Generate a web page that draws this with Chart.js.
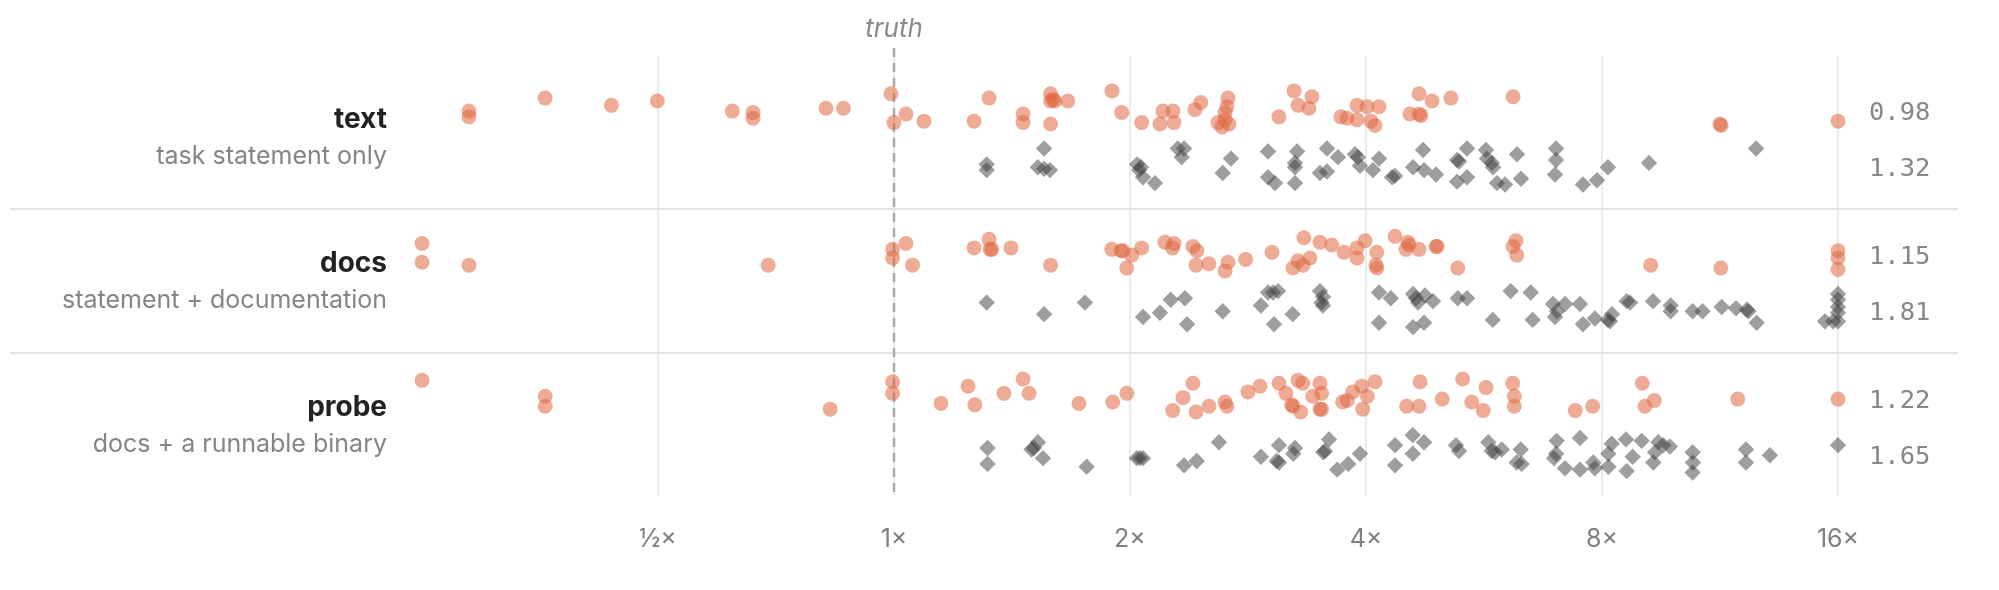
<!DOCTYPE html>
<html><head><meta charset="utf-8">
<script src="https://cdn.jsdelivr.net/npm/chart.js@4.4.1/dist/chart.umd.min.js"></script>
<style>html,body{margin:0;padding:0;background:#fff;}#wrap{width:1999px;height:590px;position:relative;}</style>
</head><body><div id="wrap"><canvas id="c"></canvas></div>
<script>
const rowTitles = ['text', 'docs', 'probe'];
const rowSubtitles = ['task statement only', 'statement + documentation', 'docs + a runnable binary'];
const summaryA = ['0.98', '1.15', '1.22'];
const summaryB = ['1.32', '1.81', '1.65'];
const xTickValues = [0.5, 1, 2, 4, 8, 16];
const xTickLabels = ['½×', '1×', '2×', '4×', '8×', '16×'];
const truthValue = 1;

// [ratio, jitter] pairs (jitter in hundredths of a row)
const textA = [[0.287,1],[0.287,5],[0.359,-8],[0.436,-3],[0.499,-6],[0.622,1],[0.661,2],[0.661,6],[0.819,-1],[0.862,-1],[0.991,-11],[1.0,9],[1.036,3],[1.092,8],[1.265,8],[1.322,-8],[1.461,3],[1.461,9],[1.584,-11],[1.584,-6],[1.595,-7],[1.604,-6],[1.666,-6],[1.584,10],[1.897,-13],[1.952,2],[2.070,9],[2.184,10],[2.203,1],[2.269,1],[2.276,9],[2.420,0],[2.462,-5],[2.667,-8],[2.659,-2],[2.644,2],[2.590,9],[2.644,7],[2.675,10],[2.621,12],[3.098,5],[3.238,-13],[3.276,-3],[3.413,-9],[3.383,-1],[3.717,5],[3.782,6],[3.896,-3],[3.896,7],[4.012,-2],[4.156,-2],[4.059,8],[4.107,11],[4.675,-11],[4.856,-6],[4.551,3],[4.675,3],[4.702,4],[5.134,-8],[6.160,-9],[11.31,10],[11.35,11],[16,8]];
const textB = [[1.313,-1],[1.313,3],[1.554,-12],[1.526,1],[1.554,2],[1.581,3],[2.042,-1],[2.066,1],[2.054,3],[2.078,8],[2.152,12],[2.301,-12],[2.344,-12],[2.328,-6],[2.691,-5],[2.626,5],[3.000,-10],[3.000,8],[3.062,12],[3.267,-10],[3.247,-2],[3.247,1],[3.247,12],[3.567,-12],[3.684,-6],[3.494,5],[3.567,4],[3.872,-8],[3.907,-6],[3.930,0],[4.156,-5],[4.083,3],[4.318,8],[4.356,7],[4.730,-11],[4.593,1],[4.744,3],[4.913,6],[5.227,-4],[5.257,-3],[5.382,-12],[5.227,11],[5.382,8],[5.690,-11],[5.707,-5],[5.792,-2],[5.809,1],[5.877,12],[6.017,13],[6.233,-8],[6.307,9],[6.990,-12],[6.990,-4],[6.969,6],[7.565,13],[7.883,10],[8.141,1],[9.184,-2],[12.58,-12]];
const docsA = [[0.25,-7],[0.25,6],[0.287,8],[0.691,8],[0.996,-3],[0.996,3],[1.036,-7],[1.056,8],[1.265,-4],[1.322,-10],[1.326,-3],[1.333,-3],[1.410,-4],[1.584,8],[1.896,-3],[1.948,-2],[1.959,-2],[2.010,1],[1.981,10],[2.070,-4],[2.216,-8],[2.276,-7],[2.267,-4],[2.406,-5],[2.435,-2],[2.428,8],[2.522,7],[2.667,6],[2.644,12],[2.809,4],[3.035,-1],[3.333,-11],[3.494,-8],[3.617,-6],[3.750,-1],[3.228,10],[3.276,5],[3.325,8],[3.393,3],[3.896,-4],[3.989,-9],[3.896,3],[4.128,-1],[4.118,8],[4.13,10],[4.356,-12],[4.525,-8],[4.538,-6],[4.498,-3],[4.675,-3],[4.913,-5],[4.93,-5],[5.237,10],[6.214,-9],[6.160,-5],[6.228,1],[9.230,8],[11.34,10],[16,-2],[16,3],[16,11]];
const docsB = [[1.313,-5],[1.554,3],[1.752,-5],[2.078,5],[2.184,2],[2.254,-7],[2.350,-8],[2.365,10],[2.626,1],[2.938,-3],[3.000,-12],[3.044,-12],[3.089,-13],[3.053,10],[3.225,3],[3.494,-13],[3.525,-9],[3.51,-5],[3.525,-3],[4.156,-12],[4.302,-8],[4.156,9],[4.593,-11],[4.633,-8],[4.660,-5],[4.756,-10],[4.870,-6],[4.593,12],[4.744,9],[5.237,-8],[5.382,-8],[5.804,7],[6.118,-13],[6.489,-12],[6.526,7],[6.927,-4],[7.009,1],[6.969,5],[7.176,-4],[7.500,-4],[7.565,10],[7.835,6],[8.141,7],[8.237,3],[8.190,8],[8.602,-6],[8.687,-5],[9.293,-6],[9.787,-3],[9.787,1],[10.44,1],[10.75,1],[11.37,-2],[11.86,-1],[12.24,0],[12.3,1],[12.60,9],[15.40,8],[16,-11],[16,-7],[16,-2],[16,2],[16,8],[15.77,8]];
const probeA = [[0.25,-12],[0.359,-1],[0.359,6],[0.829,8],[0.996,-11],[0.996,-3],[1.148,4],[1.243,-8],[1.268,5],[1.381,-3],[1.461,-13],[1.487,-3],[1.722,4],[1.901,3],[1.982,-3],[2.267,9],[2.337,0],[2.406,-10],[2.428,10],[2.522,6],[2.644,3],[2.659,6],[2.828,-4],[2.930,-8],[3.098,-10],[3.162,-3],[3.216,5],[3.228,6],[3.302,10],[3.276,-12],[3.322,-10],[3.421,-1],[3.494,-10],[3.512,-3],[3.494,8],[3.51,8],[3.735,3],[3.786,2],[3.847,-4],[3.951,-8],[4.016,-1],[3.962,8],[4.107,-11],[4.688,-11],[4.507,6],[4.675,6],[5.004,1],[5.314,-13],[5.457,3],[5.690,-7],[5.645,9],[6.155,-10],[6.183,-1],[6.183,6],[7.396,9],[7.785,6],[9.005,-10],[9.329,2],[9.076,6],[11.92,1],[16,1]];
const probeB = [[1.316,-4],[1.316,7],[1.526,-8],[1.508,-4],[1.498,-3],[1.549,3],[1.761,9],[2.040,3],[2.059,3],[2.078,3],[2.344,8],[2.433,5],[2.597,-8],[2.938,2],[3.098,-6],[3.077,5],[3.098,6],[3.247,-4],[3.231,0],[3.588,-10],[3.546,-2],[3.528,-1],[3.676,11],[3.797,7],[3.930,0],[4.356,-6],[4.356,8],[4.588,-13],[4.59,0],[4.744,-8],[5.209,-6],[5.257,-2],[5.729,-8],[5.787,-2],[5.844,-1],[5.960,-3],[6.301,-3],[6.226,6],[6.318,7],[7.003,-9],[6.99,0],[6.948,3],[7.500,-11],[7.176,10],[7.500,11],[7.798,6],[7.835,10],[8.151,0],[8.231,-7],[8.151,9],[8.585,-10],[8.989,-9],[8.754,2],[8.602,12],[9.439,-8],[9.578,-6],[9.767,-5],[9.350,-1],[9.302,6],[10.44,-1],[10.45,6],[10.44,13],[12.21,-3],[12.21,6],[13.10,1],[16,-6]];

const rowsA = [textA, docsA, probeA];
const rowsB = [textB, docsB, probeB];

const SUB_A = 0.31, SUB_B = 0.70, JIT = 0.01;
const SANS = 'Inter, "Noto Sans", sans-serif';
const MONO = '"DejaVu Sans Mono", monospace';

function toPoints(arr, row, sub) {
  return arr.map(p => ({ x: p[0], y: row + sub + p[1] * JIT }));
}

const datasets = [];
rowsA.forEach((a, i) => datasets.push({
  data: toPoints(a, i, SUB_A), pointStyle: 'circle', pointRadius: 7.5,
  backgroundColor: 'rgba(224,104,66,0.55)', borderWidth: 0, clip: false
}));
rowsB.forEach((b, i) => datasets.push({
  data: toPoints(b, i, SUB_B), pointStyle: 'rectRot', pointRadius: 8.2,
  backgroundColor: 'rgba(62,62,62,0.5)', borderWidth: 0, clip: false
}));

const overlay = {
  id: 'overlay',
  beforeDatasetsDraw(chart) {
    const { ctx, chartArea } = chart;
    const x = chart.scales.x, y = chart.scales.y;
    ctx.save();
    ctx.strokeStyle = '#e2e2e2'; ctx.lineWidth = 2;
    [1, 2].forEach(b => {
      const py = Math.round(y.getPixelForValue(b));
      ctx.beginPath(); ctx.moveTo(10, py); ctx.lineTo(1958, py); ctx.stroke();
    });
    const tx = x.getPixelForValue(truthValue);
    ctx.setLineDash([9, 6]); ctx.strokeStyle = '#a9a9a9'; ctx.lineWidth = 2.5;
    ctx.beginPath(); ctx.moveTo(tx, chartArea.top - 8); ctx.lineTo(tx, chartArea.bottom - 2); ctx.stroke();
    ctx.setLineDash([]);
    ctx.fillStyle = '#8a8a8a'; ctx.font = 'italic 26px ' + SANS;
    ctx.textAlign = 'center'; ctx.textBaseline = 'alphabetic';
    ctx.fillText('truth', tx, chartArea.top - 19);
    rowTitles.forEach((t, i) => {
      const cy = y.getPixelForValue(i + 0.5);
      ctx.textAlign = 'right';
      ctx.fillStyle = '#222'; ctx.font = 'bold 28px ' + SANS;
      ctx.fillText(t, 387, cy - 9);
      ctx.fillStyle = '#858585'; ctx.font = '25px ' + SANS;
      ctx.fillText(rowSubtitles[i], 387, cy + 27);
    });
    ctx.font = '25.5px ' + MONO; ctx.fillStyle = '#878787'; ctx.textAlign = 'left';
    summaryA.forEach((v, i) => ctx.fillText(v, 1869, y.getPixelForValue(i + SUB_A) + 10));
    summaryB.forEach((v, i) => ctx.fillText(v, 1869, y.getPixelForValue(i + SUB_B) + 10));
    ctx.restore();
  }
};

new Chart(document.getElementById('c'), {
  type: 'scatter',
  data: { datasets },
  options: {
    responsive: true, maintainAspectRatio: false, animation: false,
    devicePixelRatio: 1,
    layout: { padding: { left: 422, right: 161, top: 56, bottom: 0 } },
    plugins: { legend: { display: false }, tooltip: { enabled: false } },
    events: [],
    scales: {
      x: {
        type: 'logarithmic', min: 0.25, max: 16,
        afterBuildTicks: s => { s.ticks = xTickValues.map(v => ({ value: v })); },
        afterFit: s => { s.height = 95; },
        grid: { color: '#ebebeb', lineWidth: 2, drawTicks: false },
        border: { display: false },
        ticks: {
          padding: 29, color: '#7f7f7f', font: { family: SANS, size: 25 },
          maxRotation: 0, autoSkip: false,
          callback: (v, i) => xTickLabels[i]
        }
      },
      y: {
        type: 'linear', reverse: true, min: -0.0625, max: 2.986, display: false
      }
    }
  },
  plugins: [overlay]
});
</script>
</body></html>
